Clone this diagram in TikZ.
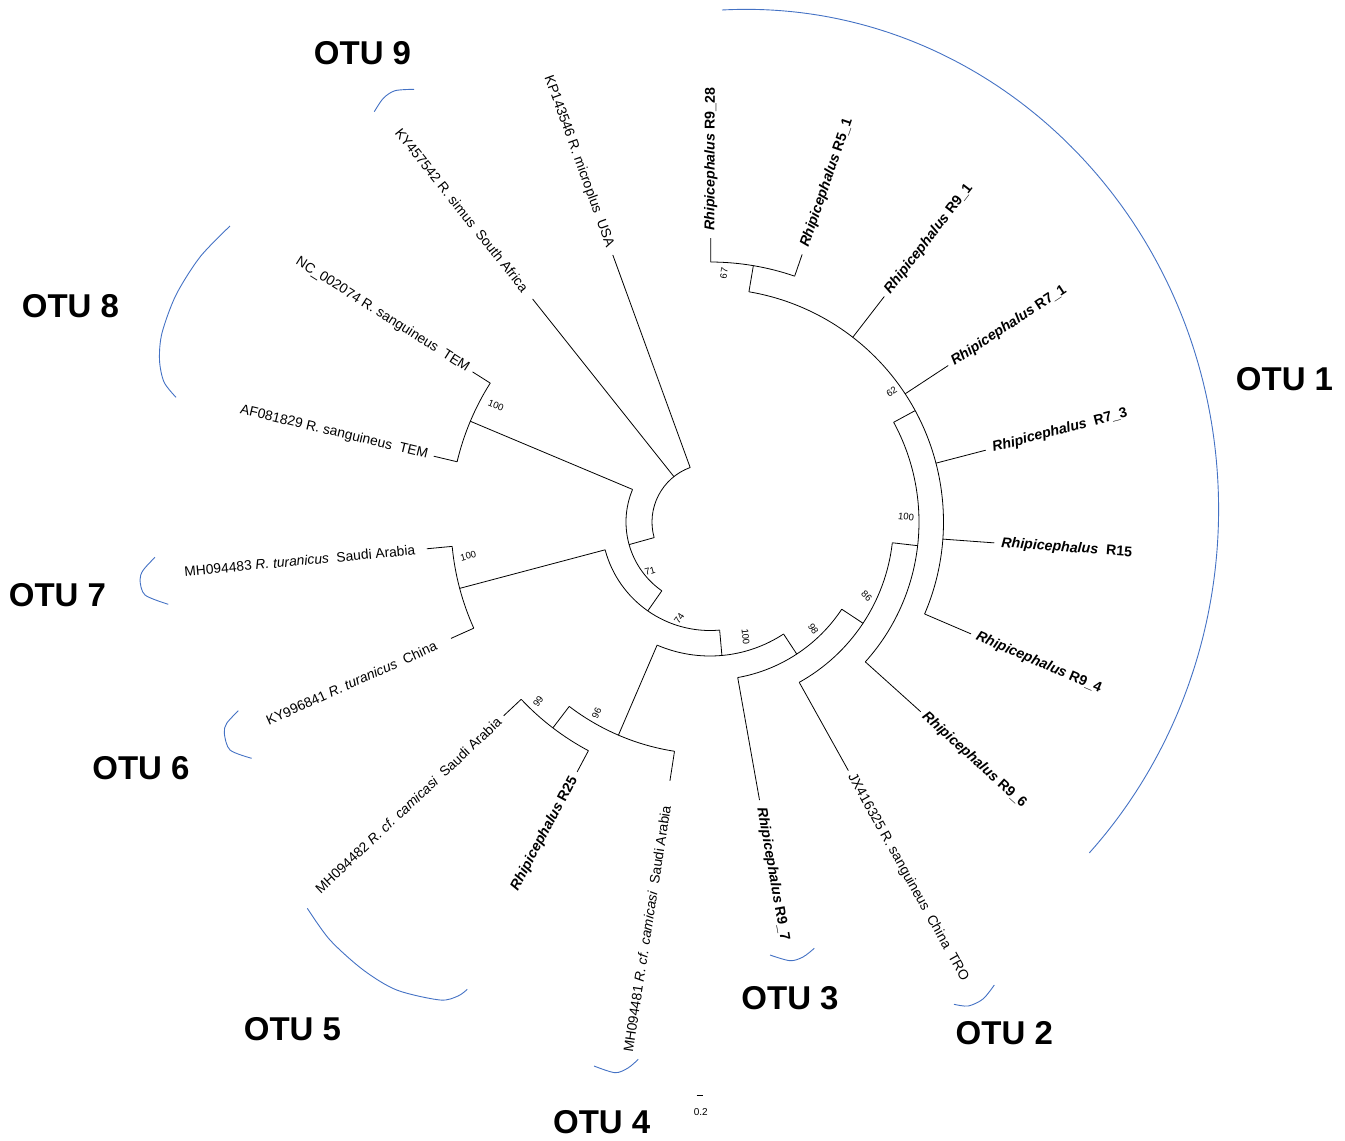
\documentclass[tikz,border=0pt]{standalone}
\usepackage{fontspec}
\setmainfont{Liberation Sans}
\definecolor{otublue}{RGB}{68,114,196}
\newcommand\leaffont{\fontsize{13.8}{16}\selectfont}
\newcommand\boldleaffont{\fontsize{14.2}{16}\selectfont}
\newcommand\bootfont{\fontsize{9.5}{11}\selectfont}
\newcommand\otufont{\fontsize{33}{38}\selectfont\bfseries}
\newcommand\dsp{\hspace{0.556em}}
\newcommand\rhip[1]{{\boldleaffont\textbf{\textit{Rhipicephalus} #1}}}
\newcommand\rhipd[1]{{\boldleaffont\textbf{\textit{Rhipicephalus}\dsp #1}}}
% clade arc: name, radius, start angle, end angle
\newcommand\cladearc[4]{\coordinate (#1-s) at (#3:#2pt);
  \draw[br] (#1-s) arc[start angle=#3, end angle=#4, radius=#2pt];}
% stem: name, angle, parent radius, child radius
\newcommand\stem[4]{\coordinate (#1-p) at (#2:#3pt);
  \coordinate (#1) at (#2:#4pt);
  \draw[br] (#1-p) -- (#1);}
% leaves: name, angle, base r, tip r, label r, text
\newcommand\leafright[6]{\coordinate (#1-b) at (#2:#3pt);
  \coordinate (#1-t) at (#2:#4pt);
  \draw[br] (#1-b) -- (#1-t);
  \node[labR, rotate=#2] (#1) at (#2:#5pt) {#6};}
\newcommand\leafleft[6]{\coordinate (#1-b) at (#2:#3pt);
  \coordinate (#1-t) at (#2:#4pt);
  \draw[br] (#1-b) -- (#1-t);
  \node[labL, rotate=#2-180] (#1) at (#2:#5pt) {#6};}
\begin{document}
\begin{tikzpicture}[x=1pt,y=1pt,
  br/.style={line width=0.8pt, black},
  otuarc/.style={draw=otublue, line width=0.9pt},
  labR/.style={anchor=west, inner sep=0pt, font=\leaffont},
  labL/.style={anchor=east, inner sep=0pt, font=\leaffont},
  boot/.style={inner sep=0pt, font=\bootfont},
  otu/.style={inner sep=0pt, font=\otufont}]
\useasboundingbox (0,0) rectangle (1345,-1141);

\begin{scope}[shift={(710,-522)}]
% root
\cladearc{root}{58}{110}{195.6}
\leafleft{kp}{110}{58}{284.2}{293}{KP143546 R. microplus\dsp USA}
\leafleft{kysim}{128.5}{58}{285}{296}{KY457542 R. simus\dsp South Africa}
% node 71
\stem{n71}{195.6}{58}{84}
\cladearc{n71}{84}{157.2}{235}
% OTU 8 clade
\stem{n8}{157.2}{84}{260}
\cladearc{n8}{260}{147.7}{166.6}
\leafleft{nc}{147.7}{260}{281}{286}{NC\_002074 R. sanguineus\dsp TEM}
\leafleft{af}{166.6}{260}{284}{290}{AF081829 R. sanguineus\dsp TEM}
% node 74
\stem{n74}{235}{84}{108.5}
\cladearc{n74}{108.5}{194.85}{275.1}
% OTU 6/7 clade
\stem{n76}{194.85}{108.5}{259}
\cladearc{n76}{259}{185.4}{204.2}
\leafleft{mhtsa}{185.4}{259}{284.5}{296}{MH094483 \textit{R. turanicus}\dsp Saudi Arabia}
\leafleft{kytch}{204.2}{259}{284}{300}{KY996841 \textit{R. turanicus}\dsp China}
% node 100 (lower)
\stem{nb}{275.1}{108.5}{134}
\cladearc{nb}{134}{246.75}{303.3}
% node 96
\stem{n96}{246.75}{134}{232}
\cladearc{n96}{232}{232.65}{261.2}
\stem{n99}{232.65}{232}{259}
\cladearc{n99}{259}{223.2}{242}
\leafleft{mhcb}{223.2}{259}{283}{289}{MH094482 \textit{R. cf. camicasi}\dsp Saudi Arabia}
\leafleft{rtf}{242}{259}{283}{289}{\rhip{R25}}
\leafleft{mhca}{261.2}{232}{262}{287}{MH094481 \textit{R. cf. camicasi}\dsp Saudi Arabia}
% node 98
\stem{n98}{303.3}{134}{158}
\cladearc{n98}{158}{280.1}{326.5}
\leafright{rnseven}{280.1}{158}{282.5}{290}{\rhip{R9\_7}}
% node 86
\stem{n86}{326.5}{158}{183.5}
\cladearc{n86}{183.5}{-60.9}{-6.5}
\leafright{jx}{-60.9}{183.5}{284.5}{289.5}{JX416325 R. sanguineus\dsp China\dsp TRO}
% OTU 1 clade (100)
\stem{na}{-6.5}{183.5}{209}
\cladearc{na}{209}{-42}{28.5}
\leafright{rnsix}{-42}{209}{283.5}{288}{\rhip{R9\_6}}
\stem{n62}{28.5}{209}{233.5}
\cladearc{n62}{233.5}{-23.2}{80.4}
\stem{n67}{80.4}{233.5}{260}
\cladearc{n67}{260}{71}{89.85}
\leafright{rntwe}{89.85}{260}{284}{291}{\rhip{R9\_28}}
\leafright{rfone}{71}{260}{283}{291}{\rhip{R5\_1}}
\leafright{rnone}{52.3}{233.5}{285}{290}{\rhip{R9\_1}}
\leafright{rsone}{33.3}{233.5}{285}{290}{\rhip{R7\_1}}
\leafright{rsthr}{14.6}{233.5}{285}{292}{\rhipd{R7\_3}}
\leafright{rfift}{-4.2}{233.5}{285}{292}{\rhipd{R15}}
\leafright{rnfour}{-23.2}{233.5}{284}{290}{\rhip{R9\_4}}
\end{scope}

% bootstrap values
\node[boot, rotate=80]  (b67)  at (724,-273.3) {67};
\node[boot, rotate=33]  (b62)  at (891.7,-391.7) {62};
\node[boot, rotate=-6]  (b100a) at (906,-516.7) {100};
\node[boot, rotate=-45] (b86)  at (866.7,-596) {86};
\node[boot, rotate=-57] (b98)  at (813.3,-629) {98};
\node[boot, rotate=-84] (b100b) at (745.7,-636.7) {100};
\node[boot, rotate=55]  (b74)  at (679.3,-618.3) {74};
\node[boot, rotate=16]  (b71)  at (650,-571) {71};
\node[boot, rotate=15]  (b100c) at (468.3,-556) {100};
\node[boot, rotate=55]  (b99)  at (538.3,-701.7) {99};
\node[boot, rotate=65]  (b96)  at (596.7,-713.3) {96};
\node[boot, rotate=-22] (b100d) at (496,-405) {100};

% OTU brackets
\coordinate (o1s) at (722,-10);
\draw[otuarc] (o1s) arc[start angle=92.9, end angle=-43.4, x radius=472.7pt, y radius=500pt];
\draw[otuarc] plot[smooth] coordinates {(954,-1004.3) (968.3,-1006) (983,-999) (994.3,-985)};
\draw[otuarc] plot[smooth] coordinates {(770,-955) (790,-960.7) (803,-957) (814.3,-948.3)};
\draw[otuarc] plot[smooth] coordinates {(594,-1066) (615,-1072.7) (628,-1068) (638.3,-1059.3)};
\draw[otuarc] plot[smooth] coordinates {(307.3,-908.3) (330,-940) (363.3,-970) (396.7,-990) (440,-1000) (458,-996) (467.3,-989.3)};
\draw[otuarc] plot[smooth] coordinates {(238.3,-710.7) (226.7,-723.3) (224.3,-733.3) (230,-750) (251.7,-758.3)};
\draw[otuarc] plot[smooth] coordinates {(155,-557.3) (143.3,-570) (140,-580) (145,-595) (168.3,-604.3)};
\draw[otuarc] plot[smooth] coordinates {(230,-226) (200,-257) (176,-295) (162,-333) (159.5,-360) (164,-382) (176,-397.3)};
\draw[otuarc] plot[smooth] coordinates {(374.3,-111.7) (383.3,-98.3) (395,-90.7) (414,-89.3)};

% OTU labels
\node[otu] (otu1) at (1284.5,-379) {OTU 1};
\node[otu] (otu2) at (1004.3,-1033.3) {OTU 2};
\node[otu] (otu3) at (790,-998.3) {OTU 3};
\node[otu] (otu4) at (601.7,-1121.7) {OTU 4};
\node[otu] (otu5) at (292.5,-1029.2) {OTU 5};
\node[otu] (otu6) at (141,-768) {OTU 6};
\node[otu] (otu7) at (57.5,-595) {OTU 7};
\node[otu] (otu8) at (70.5,-306.5) {OTU 8};
\node[otu] (otu9) at (362.5,-53) {OTU 9};

% scale bar
\coordinate (sb1) at (696.7,-1095.7);
\coordinate (sb2) at (702.7,-1095.7);
\draw[line width=0.8pt] (sb1) -- (sb2);
\node[boot, font=\fontsize{10}{12}\selectfont] (sbl) at (700.7,-1112.3) {0.2};
\end{tikzpicture}
\end{document}
